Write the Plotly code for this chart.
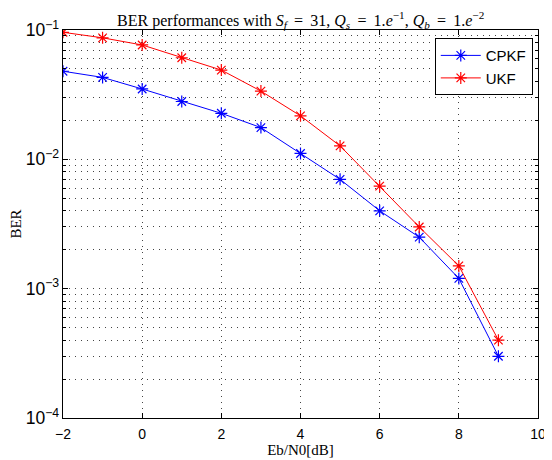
import plotly.graph_objects as go

# Eb/N0 in dB
ebn0 = [-2, -1, 0, 1, 2, 3, 4, 5, 6, 7, 8, 9]

# BER values
ber_cpkf = [0.048, 0.043, 0.035, 0.028, 0.0227, 0.0176, 0.0111, 0.0070, 0.0040, 0.0025, 0.0012, 0.0003]
ber_ukf = [0.096, 0.087, 0.0766, 0.061, 0.049, 0.0337, 0.0217, 0.0127, 0.0062, 0.0030, 0.0015, 0.0004]

x_ticks = [-2, 0, 2, 4, 6, 8, 10]

serif = "Liberation Serif"
sans = "Liberation Sans"
grid_col = "#444444"
grid_dash = "1px,5px"

fig = go.Figure()

fig.add_trace(go.Scatter(
    x=ebn0, y=ber_cpkf, name="CPKF",
    mode="lines+markers",
    line=dict(color="#0000ff", width=1),
    marker=dict(symbol="asterisk-open", size=10, line=dict(color="#0000ff", width=1.2)),
))
fig.add_trace(go.Scatter(
    x=ebn0, y=ber_ukf, name="UKF",
    mode="lines+markers",
    line=dict(color="#ff0000", width=1),
    marker=dict(symbol="asterisk-open", size=10, line=dict(color="#ff0000", width=1.2)),
))

# math-like spacing around "=" in the title
eq = "\u2009=\u2009"
title_txt = (f"BER performances with <i>S<sub>f</sub></i> {eq} 31, "
             f"<i>Q<sub>s</sub></i> {eq} 1.<i>e</i><sup>−1</sup>, "
             f"<i>Q<sub>b</sub></i> {eq} 1.<i>e</i><sup>−2</sup>")

# page body has an 8px margin, so the figure is a bit smaller than the window
fig.update_layout(
    width=544, height=452,
    margin=dict(l=55, r=14, t=22, b=42, autoexpand=False),
    paper_bgcolor="white", plot_bgcolor="white",
    title=dict(
        text=title_txt,
        x=0.538, xanchor="center", y=0.986, yanchor="top",
        font=dict(family=serif, size=16, color="black"),
    ),
    legend=dict(
        x=0.989, xanchor="right", y=0.979, yanchor="top",
        bgcolor="white", bordercolor="black", borderwidth=1,
        font=dict(family=sans, size=15, color="black"),
        itemwidth=40, tracegroupgap=0,
    ),
    showlegend=True,
)

fig.update_xaxes(
    range=[-2, 10], tickvals=x_ticks,
    showline=True, linecolor="black", linewidth=1, mirror="ticks",
    ticks="inside", ticklen=5, tickcolor="black", ticklabelstandoff=3,
    showgrid=True, gridcolor=grid_col, griddash=grid_dash, gridwidth=1,
    zeroline=False, automargin=False,
    tickfont=dict(family=sans, size=14, color="black"),
    title=dict(text="Eb/N0[dB]", font=dict(family=serif, size=15, color="black"), standoff=2),
)

fig.update_yaxes(
    type="log", range=[-4, -1], dtick=1,
    exponentformat="power",
    showline=True, linecolor="black", linewidth=1, mirror="ticks",
    ticks="inside", ticklen=5, tickcolor="black",
    showgrid=True, gridcolor=grid_col, griddash=grid_dash, gridwidth=1,
    zeroline=False, automargin=False,
    minor=dict(dtick="D1", ticks="inside", ticklen=3, tickcolor="black",
               showgrid=True, gridcolor=grid_col, griddash=grid_dash, gridwidth=1),
    tickfont=dict(family=sans, size=14, color="black"),
    title=dict(text="BER", font=dict(family=serif, size=15, color="black"), standoff=4),
)

fig.write_html("out.html")
